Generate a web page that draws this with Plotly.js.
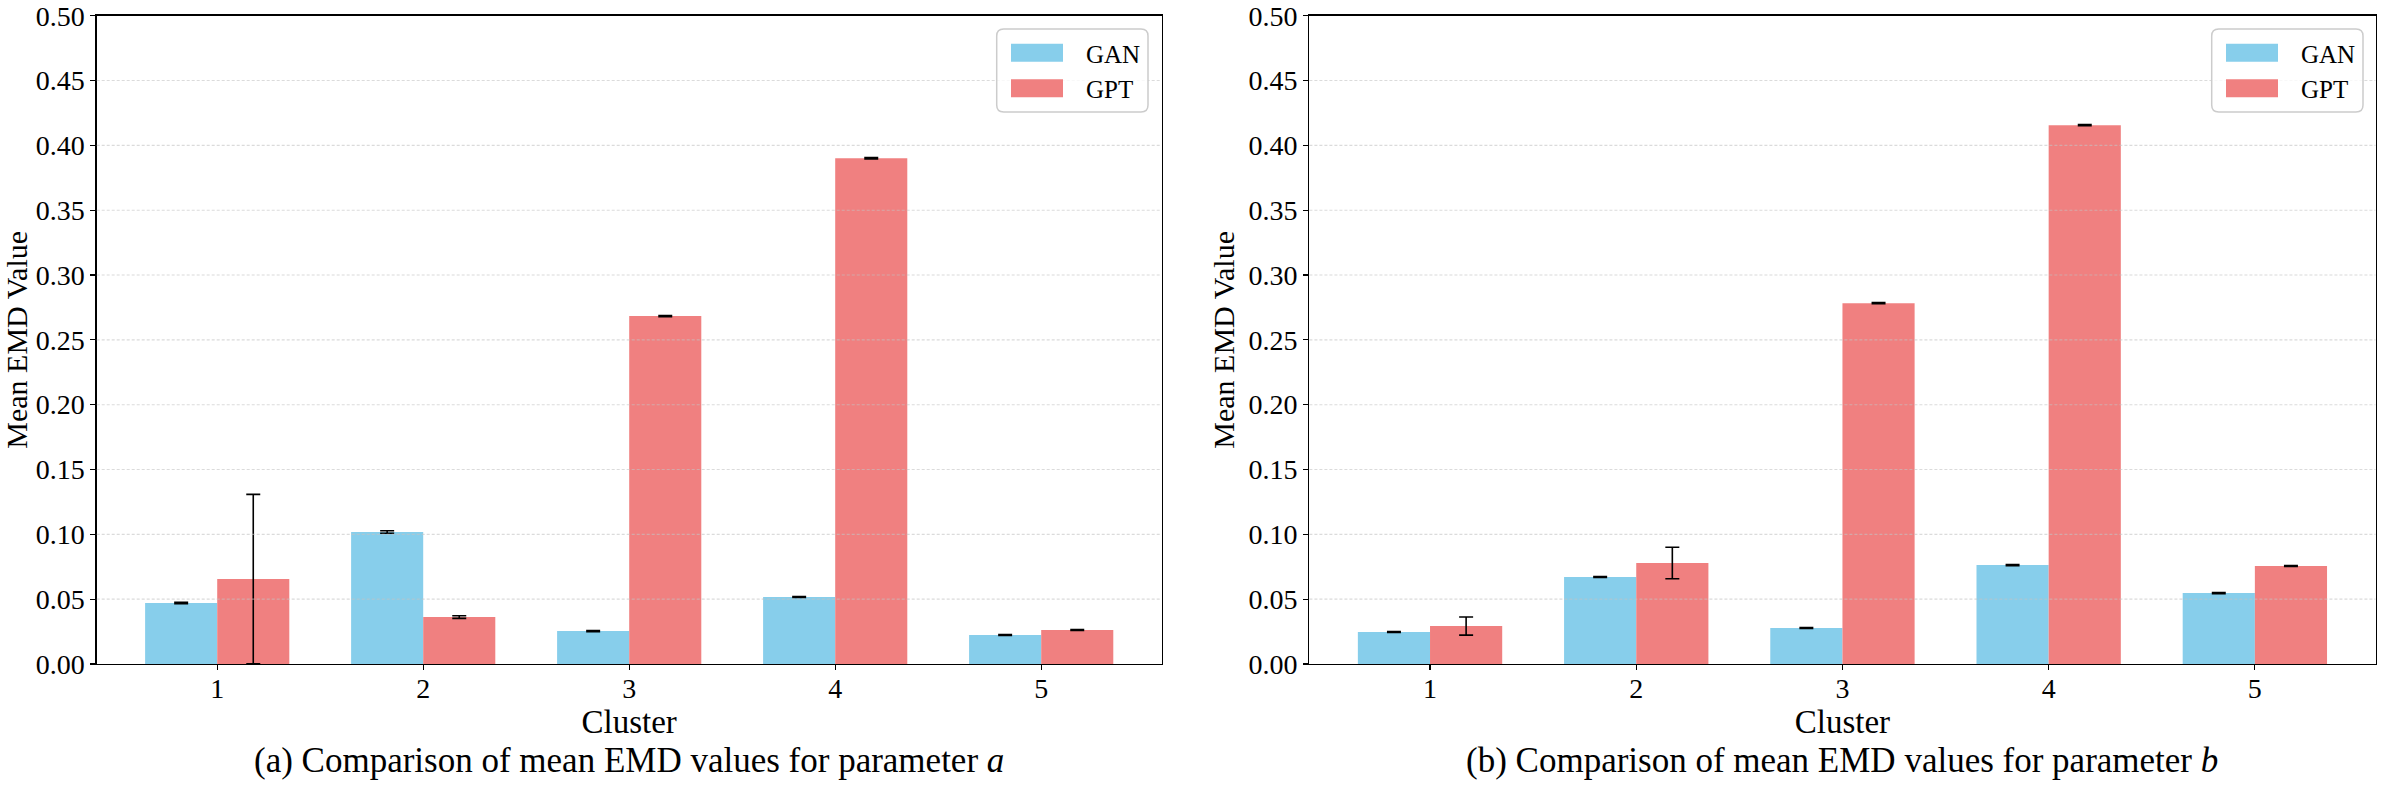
<!DOCTYPE html>
<html>
<head>
<meta charset="utf-8">
<script src="https://cdn.plot.ly/plotly-3.0.1.min.js"></script>
<style>
html,body{margin:0;padding:0;background:#fff;}
#chart{width:2400px;height:800px;}
</style>
</head>
<body>
<div id="chart"></div>
<script>
// ---------- data ----------
const clusters = [1, 2, 3, 4, 5];
const clusterLabels = ["1", "2", "3", "4", "5"];
const seriesNames = ["GAN", "GPT"];

// (a) parameter a
const ganA    = [0.0470, 0.1018, 0.0254, 0.0517, 0.0224];
const ganAErr = [0.0005, 0.0010, 0.0004, 0.0004, 0.0004];
const gptA    = [0.0655, 0.0362, 0.2683, 0.3901, 0.0262];
const gptAErr = [0.0653, 0.0010, 0.0005, 0.0005, 0.0004];

// (b) parameter b
const ganB    = [0.0247, 0.0671, 0.0278, 0.0763, 0.0547];
const ganBErr = [0.0004, 0.0004, 0.0004, 0.0004, 0.0004];
const gptB    = [0.0293, 0.0779, 0.2783, 0.4156, 0.0756];
const gptBErr = [0.0070, 0.0121, 0.0004, 0.0004, 0.0004];

const yTicks = [0, 0.05, 0.10, 0.15, 0.20, 0.25, 0.30, 0.35, 0.40, 0.45, 0.50];
const captions = [
  "(a) Comparison of mean EMD values for parameter <i>a</i>",
  "(b) Comparison of mean EMD values for parameter <i>b</i>"
];
const xTitle = "Cluster";
const yTitle = "Mean EMD Value";

// ---------- style ----------
const FONT = "Liberation Serif";
const colors = ["#87CEEB", "#F08080"];
const W = 2400, H = 800;

function barTrace(name, y, err, color, xa, ya, legendId, show) {
  return {
    type: "bar", name: name, x: clusters, y: y,
    xaxis: xa, yaxis: ya, legend: legendId, showlegend: show,
    marker: {color: color, line: {width: 0}},
    error_y: {type: "data", array: err, visible: true, color: "#000", thickness: 1.6, width: 7},
    hoverinfo: "skip"
  };
}

const data = [
  barTrace(seriesNames[0], ganA, ganAErr, colors[0], "x", "y", "legend", true),
  barTrace(seriesNames[1], gptA, gptAErr, colors[1], "x", "y", "legend", true),
  barTrace(seriesNames[0], ganB, ganBErr, colors[0], "x2", "y2", "legend2", true),
  barTrace(seriesNames[1], gptB, gptBErr, colors[1], "x2", "y2", "legend2", true)
];

const domL = [96.7 / W, 1161.7 / W];
const domR = [1309.4 / W, 2375.5 / W];
const domY = [1 - 664 / H, 1 - 15.7 / H];

function xAxis(dom, anchor) {
  return {
    domain: dom, anchor: anchor, range: [0.415, 5.585],
    tickmode: "array", tickvals: clusters, ticktext: clusterLabels,
    showgrid: false, zeroline: false,
    showline: true, mirror: true, linecolor: "#000", linewidth: 1.3,
    ticks: "outside", ticklen: 5, tickwidth: 1.2, tickcolor: "#000",
    ticklabelstandoff: -6,
    tickfont: {family: FONT, size: 28, color: "#000"},
    title: {text: xTitle, font: {family: FONT, size: 33, color: "#000"}, standoff: 1},
    layer: "above traces", fixedrange: true
  };
}
function yAxis(dom, anchor) {
  return {
    domain: dom, anchor: anchor, range: [0, 0.5],
    tickmode: "array", tickvals: yTicks, ticktext: yTicks.map(v => v.toFixed(2)),
    showgrid: false, zeroline: false,
    showline: true, mirror: true, linecolor: "#000", linewidth: 1.3,
    ticks: "outside", ticklen: 5, tickwidth: 1.2, tickcolor: "#000",
    tickfont: {family: FONT, size: 28, color: "#000"},
    title: {text: yTitle, font: {family: FONT, size: 30, color: "#000"}, standoff: 5},
    layer: "above traces", fixedrange: true
  };
}

// grid lines drawn above the bars (matplotlib style) from the tick values
const shapes = [];
["x", "x2"].forEach((xa, i) => {
  const ya = i === 0 ? "y" : "y2";
  yTicks.slice(1, -1).forEach(v => {
    shapes.push({
      type: "line", xref: xa + " domain", yref: ya, x0: 0, x1: 1, y0: v, y1: v,
      line: {color: "rgba(195,195,195,0.6)", width: 1.1, dash: "3px,2px"}, layer: "above"
    });
  });
});

// rounded legend frames
function roundRect(x0p, y0p, x1p, y1p, r) {
  const x0 = x0p / W, x1 = x1p / W, yt = 1 - y0p / H, yb = 1 - y1p / H;
  const rx = r / W, ry = r / H;
  return `M${x0 + rx},${yt} L${x1 - rx},${yt} Q${x1},${yt} ${x1},${yt - ry} L${x1},${yb + ry} Q${x1},${yb} ${x1 - rx},${yb} L${x0 + rx},${yb} Q${x0},${yb} ${x0},${yb + ry} L${x0},${yt - ry} Q${x0},${yt} ${x0 + rx},${yt} Z`;
}
shapes.push({type: "path", xref: "paper", yref: "paper", path: roundRect(996.7, 29, 1148, 112, 7),
  line: {color: "rgba(204,204,204,1)", width: 1.5}, fillcolor: "rgba(255,255,255,0.8)", layer: "above"});
shapes.push({type: "path", xref: "paper", yref: "paper", path: roundRect(2211.7, 29, 2363, 112, 7),
  line: {color: "rgba(204,204,204,1)", width: 1.5}, fillcolor: "rgba(255,255,255,0.8)", layer: "above"});

function legendCfg(xpx) {
  return {
    x: xpx / W, xanchor: "left", y: 1 - 30 / H, yanchor: "top",
    bgcolor: "rgba(0,0,0,0)", borderwidth: 0,
    font: {family: FONT, size: 25, color: "#000"},
    itemwidth: 88, tracegroupgap: 0, itemclick: false, itemdoubleclick: false
  };
}

const annotations = [
  {text: captions[0], xref: "paper", yref: "paper", x: (domL[0] + domL[1]) / 2, y: 1 - 760 / H,
   xanchor: "center", yanchor: "middle", showarrow: false, font: {family: FONT, size: 35, color: "#000"}},
  {text: captions[1], xref: "paper", yref: "paper", x: (domR[0] + domR[1]) / 2, y: 1 - 760 / H,
   xanchor: "center", yanchor: "middle", showarrow: false, font: {family: FONT, size: 35, color: "#000"}}
];

const layout = {
  width: W, height: H,
  margin: {l: 0, r: 0, t: 0, b: 0, pad: 0},
  paper_bgcolor: "#fff", plot_bgcolor: "#fff",
  barmode: "group", bargap: 0.3, bargroupgap: 0,
  showlegend: true,
  font: {family: FONT, color: "#000"},
  xaxis: xAxis(domL, "y"), yaxis: yAxis(domY, "x"),
  xaxis2: xAxis(domR, "y2"), yaxis2: yAxis(domY, "x2"),
  legend: legendCfg(988), legend2: legendCfg(2203),
  shapes: shapes, annotations: annotations
};

Plotly.newPlot("chart", data, layout, {staticPlot: true, displayModeBar: false}).then(gd => {
  // widen legend swatches to matplotlib-like patches (both legends)
  gd.querySelectorAll(".legendpoints path").forEach(p => {
    p.setAttribute("d", "M-26,-9H26V9H-26Z");
  });
});
</script>
</body>
</html>
